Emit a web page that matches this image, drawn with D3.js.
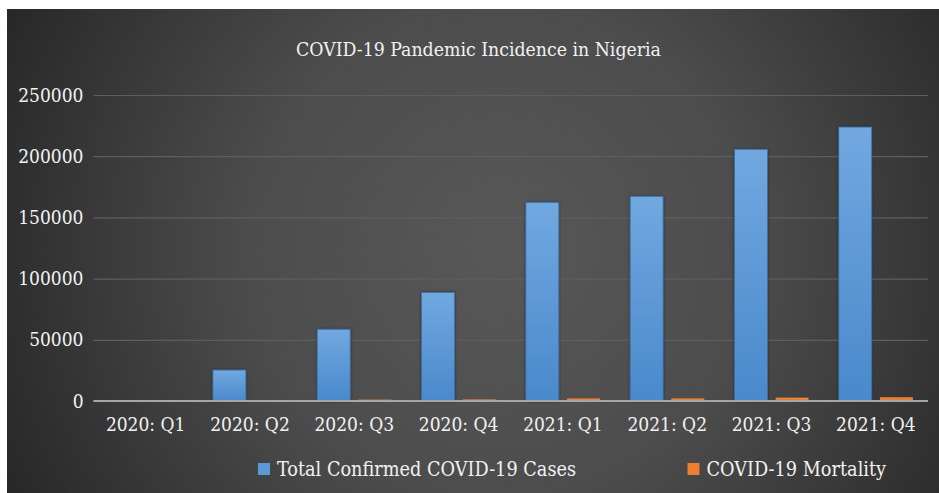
<!DOCTYPE html>
<html>
<head>
<meta charset="utf-8">
<script src="https://cdn.jsdelivr.net/npm/d3@7"></script>
<style>
  html, body { margin: 0; padding: 0; background: #ffffff; }
  svg { display: block; }
  svg text { font-stretch: condensed; }
</style>
</head>
<body>
<svg id="chart" width="939" height="493"></svg>
<script>
// Quarterly figures for Nigeria
const quarters = ["2020: Q1", "2020: Q2", "2020: Q3", "2020: Q4",
                  "2021: Q1", "2021: Q2", "2021: Q3", "2021: Q4"];
const seriesNames = ["Total Confirmed COVID-19 Cases", "COVID-19 Mortality"];
const confirmedCases = [139, 25300, 58600, 88600, 162300, 167200, 205600, 223800];
const mortality = [2, 590, 1112, 1289, 2041, 2120, 2722, 3031];
const yTicks = [0, 50000, 100000, 150000, 200000, 250000];

const FONT = "'DejaVu Serif Condensed', 'DejaVu Serif', serif";
const FS = 19;
const svg = d3.select("#chart");
const W = 939, H = 493;
const margin = { left: 93.5, right: 11, top: 95, bottom: 92 };

const defs = svg.append("defs");

// Dark backdrop: lighter toward the middle, darker at the rim
const bg = defs.append("radialGradient").attr("id", "bgGrad")
  .attr("gradientUnits", "userSpaceOnUse")
  .attr("cx", 500).attr("cy", 250).attr("r", 560);
bg.append("stop").attr("offset", "0%").attr("stop-color", "#585858");
bg.append("stop").attr("offset", "45%").attr("stop-color", "#4c4c4c");
bg.append("stop").attr("offset", "100%").attr("stop-color", "#262626");

const blueGrad = defs.append("linearGradient").attr("id", "blueGrad")
  .attr("x1", 0).attr("y1", 0).attr("x2", 0).attr("y2", 1);
blueGrad.append("stop").attr("offset", "0%").attr("stop-color", "#71a8e0");
blueGrad.append("stop").attr("offset", "100%").attr("stop-color", "#4a89cb");

const orangeGrad = defs.append("linearGradient").attr("id", "orangeGrad")
  .attr("x1", 0).attr("y1", 0).attr("x2", 0).attr("y2", 1);
orangeGrad.append("stop").attr("offset", "0%").attr("stop-color", "#f28a3f");
orangeGrad.append("stop").attr("offset", "100%").attr("stop-color", "#e0732b");

const shadow = defs.append("filter").attr("id", "barShadow")
  .attr("x", "-20%").attr("y", "-5%").attr("width", "140%").attr("height", "110%");
shadow.append("feDropShadow").attr("dx", 0).attr("dy", 0).attr("stdDeviation", 1.5)
  .attr("flood-color", "#000").attr("flood-opacity", 0.45);

svg.append("rect").attr("x", 7).attr("y", 9).attr("width", W - 7).attr("height", H - 9)
  .attr("fill", "url(#bgGrad)");

const x0 = d3.scaleBand().domain(quarters)
  .range([margin.left, W - margin.right])
  .paddingInner(0.29).paddingOuter(0.145);
const x1 = d3.scaleBand().domain(seriesNames)
  .range([0, x0.bandwidth()]).paddingInner(0.2);
const y = d3.scaleLinear().domain([0, 250000])
  .range([H - margin.bottom, margin.top]);

// Gridlines
const yAxis = d3.axisLeft(y).tickValues(yTicks)
  .tickSize(-(W - margin.right - margin.left)).tickPadding(10)
  .tickFormat(d3.format("d"));
const gy = svg.append("g").attr("transform", `translate(${margin.left},0)`).call(yAxis)
  .attr("font-family", FONT);
gy.select(".domain").remove();
gy.selectAll(".tick line").attr("stroke", "#5e5e5e").attr("stroke-width", 1.2);
gy.selectAll(".tick text").attr("font-size", FS).attr("fill", "#f2f2f2");

// Bars
const rows = quarters.map((q, i) => ({ q, vals: [confirmedCases[i], mortality[i]] }));
const fills = ["url(#blueGrad)", "url(#orangeGrad)"];
const groups = svg.append("g").selectAll("g").data(rows).join("g")
  .attr("transform", d => `translate(${x0(d.q)},0)`);
groups.selectAll("rect")
  .data(d => d.vals.map((v, k) => ({ v, k })))
  .join("rect")
  .attr("x", d => x1(seriesNames[d.k]))
  .attr("y", d => y(d.v))
  .attr("width", x1.bandwidth())
  .attr("height", d => y(0) - y(d.v))
  .attr("fill", d => fills[d.k])
  .attr("stroke", d => d.k === 0 ? "#3b70a8" : "none")
  .attr("stroke-width", 0.8)
  .attr("filter", d => d.k === 0 ? "url(#barShadow)" : null);

// Category axis
const xAxis = d3.axisBottom(x0).tickSize(0).tickPadding(17);
const gx = svg.append("g").attr("transform", `translate(0,${y(0)})`).call(xAxis)
  .attr("font-family", FONT);
gx.select(".domain").attr("stroke", "#a6a6a6").attr("stroke-width", 2)
  .attr("d", `M${margin.left},0H${W - margin.right}`);
gx.selectAll(".tick text").attr("font-size", FS).attr("fill", "#f2f2f2");

// Title
svg.append("text").attr("x", 478.5).attr("y", 56).attr("text-anchor", "middle")
  .attr("font-family", FONT).attr("fill", "#f2f2f2").attr("font-size", 19.3)
  .text("COVID-19 Pandemic Incidence in Nigeria");

// Legend
const legendItems = [
  { name: seriesNames[0], color: "#5a98d8", x: 258 },
  { name: seriesNames[1], color: "#ed7d31", x: 687.5 }
];
const lg = svg.append("g").attr("font-family", FONT).selectAll("g").data(legendItems).join("g")
  .attr("transform", d => `translate(${d.x},463)`);
lg.append("rect").attr("width", 12).attr("height", 12).attr("fill", d => d.color);
lg.append("text").attr("x", 19).attr("y", 13).attr("font-size", 19.7).attr("fill", "#f2f2f2").text(d => d.name);
</script>
</body>
</html>
